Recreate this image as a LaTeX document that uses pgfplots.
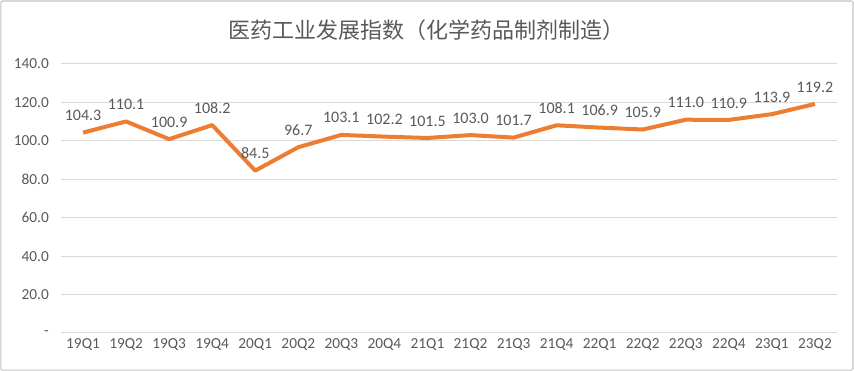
\documentclass[border=0pt]{standalone}
\usepackage{fontspec}
\setmainfont{Carlito}
\newfontfamily\cjk{Noto Sans CJK SC}
\usepackage{pgfplots}
\pgfplotsset{compat=1.18}
\pgfkeys{/pgf/number format/assume math mode=true}
\definecolor{txt}{HTML}{595959}
\definecolor{grid}{HTML}{D9D9D9}
\definecolor{ln}{HTML}{ED7D31}
\begin{document}
\begin{tikzpicture}
% picture frame: 1px = 0.75pt ; plot lower-left at pixel (61.5,333)
\path[use as bounding box] (-46.125pt,-28.5pt) rectangle (594.375pt,249.75pt);
\draw[draw=grid!90!black, line width=0.8pt, rounded corners=1pt] (-45.4pt,-27.8pt) rectangle (593.6pt,249pt);
\node[text=txt, font=\cjk\fontsize{16.5}{19}\selectfont] at (274.1pt,227.25pt) {医药工业发展指数（化学药品制剂制造）};
\begin{axis}[
  at={(0pt,0pt)}, anchor=south west,
  scale only axis, width=581.25pt, height=201.75pt,
  xmin=-0.5, xmax=17.5, ymin=0, ymax=140,
  axis line style={draw=none},
  tick style={draw=none},
  ymajorgrids, grid style={draw=grid, line width=0.75pt},
  ytick={0,20,40,60,80,100,120,140},
  yticklabels={-,20.0,40.0,60.0,80.0,100.0,120.0,140.0},
  xtick={0,...,17},
  xticklabels={19Q1,19Q2,19Q3,19Q4,20Q1,20Q2,20Q3,20Q4,21Q1,21Q2,21Q3,21Q4,22Q1,22Q2,22Q3,22Q4,23Q1,23Q2},
  ticklabel style={text=txt, font=\fontsize{11.5}{13}\selectfont},
  yticklabel style={anchor=east, xshift=-6pt},
  xticklabel style={anchor=center, yshift=-9pt},
  clip=false,
  nodes near coords={\pgfmathprintnumber[fixed,zerofill,precision=1]{\pgfplotspointmeta}},
  nodes near coords style={anchor=south, yshift=4pt, text=txt, font=\fontsize{12}{14}\selectfont},
]
\addplot[color=ln, line width=3pt, line join=round, mark=none] coordinates {
(0,104.3) (1,110.1) (2,100.9) (3,108.2) (4,84.5) (5,96.7) (6,103.1) (7,102.2) (8,101.5)
(9,103.0) (10,101.7) (11,108.1) (12,106.9) (13,105.9) (14,111.0) (15,110.9) (16,113.9) (17,119.2)
};
\end{axis}
\end{tikzpicture}
\end{document}
